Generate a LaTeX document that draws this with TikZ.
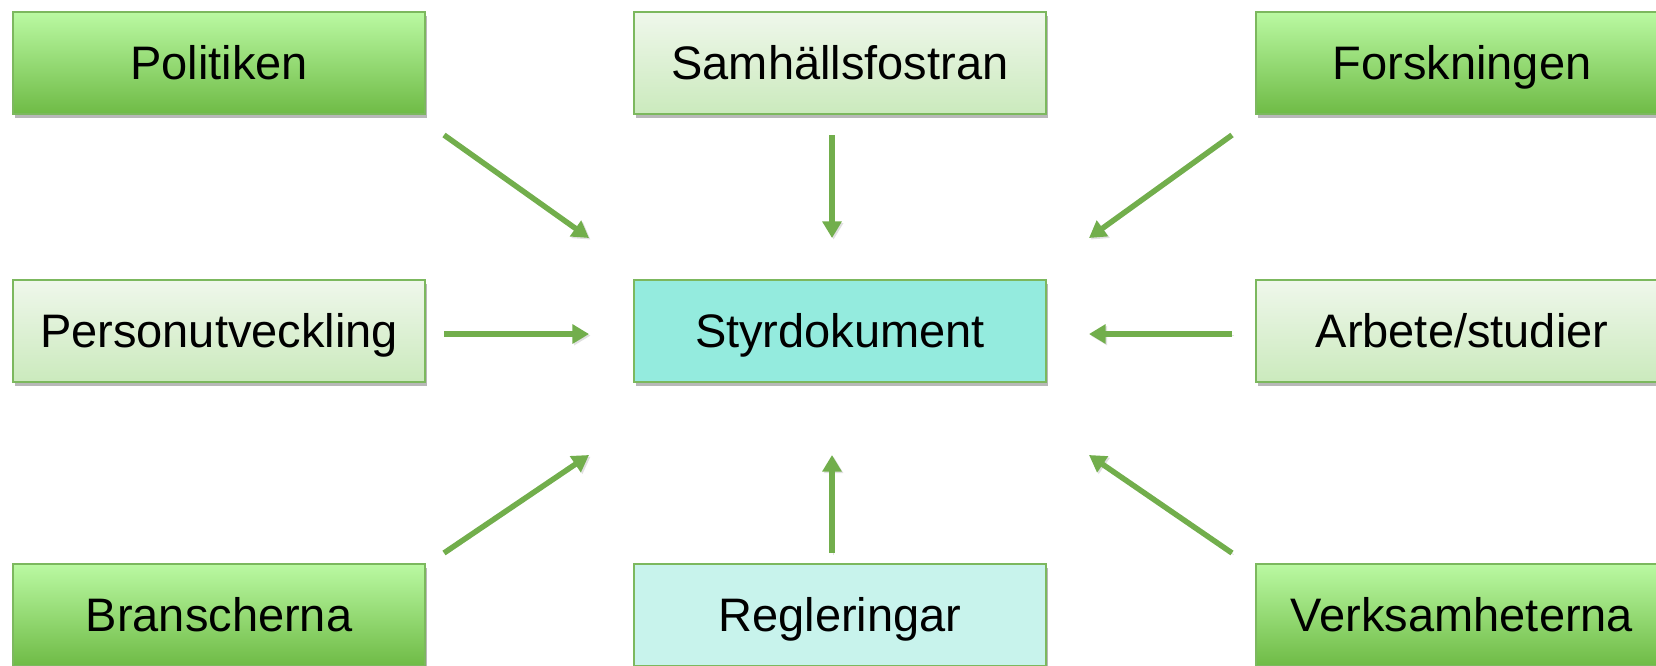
\documentclass[tikz,border=0pt]{standalone}
\usepackage{fontspec}
\setmainfont{Liberation Sans}
\usetikzlibrary{shadows,arrows.meta}
\definecolor{brd}{HTML}{7CB85E}
\definecolor{arr}{HTML}{72AE4C}
\definecolor{gtop}{HTML}{BAF9A2}
\definecolor{gbot}{HTML}{6FBB46}
\definecolor{ltop}{HTML}{EFF7EB}
\definecolor{lbot}{HTML}{CBEABD}
\definecolor{turq}{HTML}{94EBDE}
\definecolor{lturq}{HTML}{C8F3EC}
\begin{document}
\begin{tikzpicture}[x=0.5pt,y=-0.5pt,
  box/.style={draw=brd, line width=1pt, minimum width=206pt, minimum height=50.75pt,
    inner sep=0pt, text height=16.8pt, text depth=0pt,
    font=\fontsize{23.5}{28}\selectfont,
    drop shadow={shadow xshift=1.2pt, shadow yshift=-2pt, opacity=0.35, fill=black!80}},
  gbox/.style={top color=gtop, bottom color=gbot},
  lbox/.style={top color=ltop, bottom color=lbot},
  arrow/.style={draw=arr, line width=2.75pt, -{Triangle[length=8.3pt,width=9.3pt]},
    preaction={draw=black!60, opacity=0.2, transform canvas={shift={(0.8pt,-0.8pt)}}}}]
\useasboundingbox (0,0) rectangle (1656,665);
\clip (0,0) rectangle (1656,665);
\node[box, gbox] (pol) at (219,63) {Politiken};
\node[box, lbox] (sam) at (840,63) {Samhällsfostran};
\node[box, gbox] (for) at (1462,63) {Forskningen};
\node[box, lbox] (per) at (219,331) {Personutveckling};
\node[box, fill=turq] (sty) at (840,331) {Styrdokument};
\node[box, lbox] (arb) at (1462,331) {Arbete/studier};
\node[box, gbox] (bra) at (219,615) {Branscherna};
\node[box, fill=lturq] (reg) at (840,615) {Regleringar};
\node[box, gbox] (ver) at (1462,615) {Verksamheterna};
% connector ends
\coordinate (polO) at (444,135);  \coordinate (styNW) at (589,238);
\coordinate (samO) at (832,135);  \coordinate (styN) at (832,238);
\coordinate (forO) at (1232,135); \coordinate (styNE) at (1089,238);
\coordinate (perO) at (444,334);  \coordinate (styW) at (589,334);
\coordinate (arbO) at (1232,334); \coordinate (styE) at (1089,334);
\coordinate (braO) at (444,553);  \coordinate (stySW) at (589,455);
\coordinate (regO) at (832,553);  \coordinate (styS) at (832,455);
\coordinate (verO) at (1232,553); \coordinate (stySE) at (1089,455);
\draw[arrow] (polO) -- (styNW);
\draw[arrow] (samO) -- (styN);
\draw[arrow] (forO) -- (styNE);
\draw[arrow] (perO) -- (styW);
\draw[arrow] (arbO) -- (styE);
\draw[arrow] (braO) -- (stySW);
\draw[arrow] (regO) -- (styS);
\draw[arrow] (verO) -- (stySE);
\end{tikzpicture}
\end{document}
